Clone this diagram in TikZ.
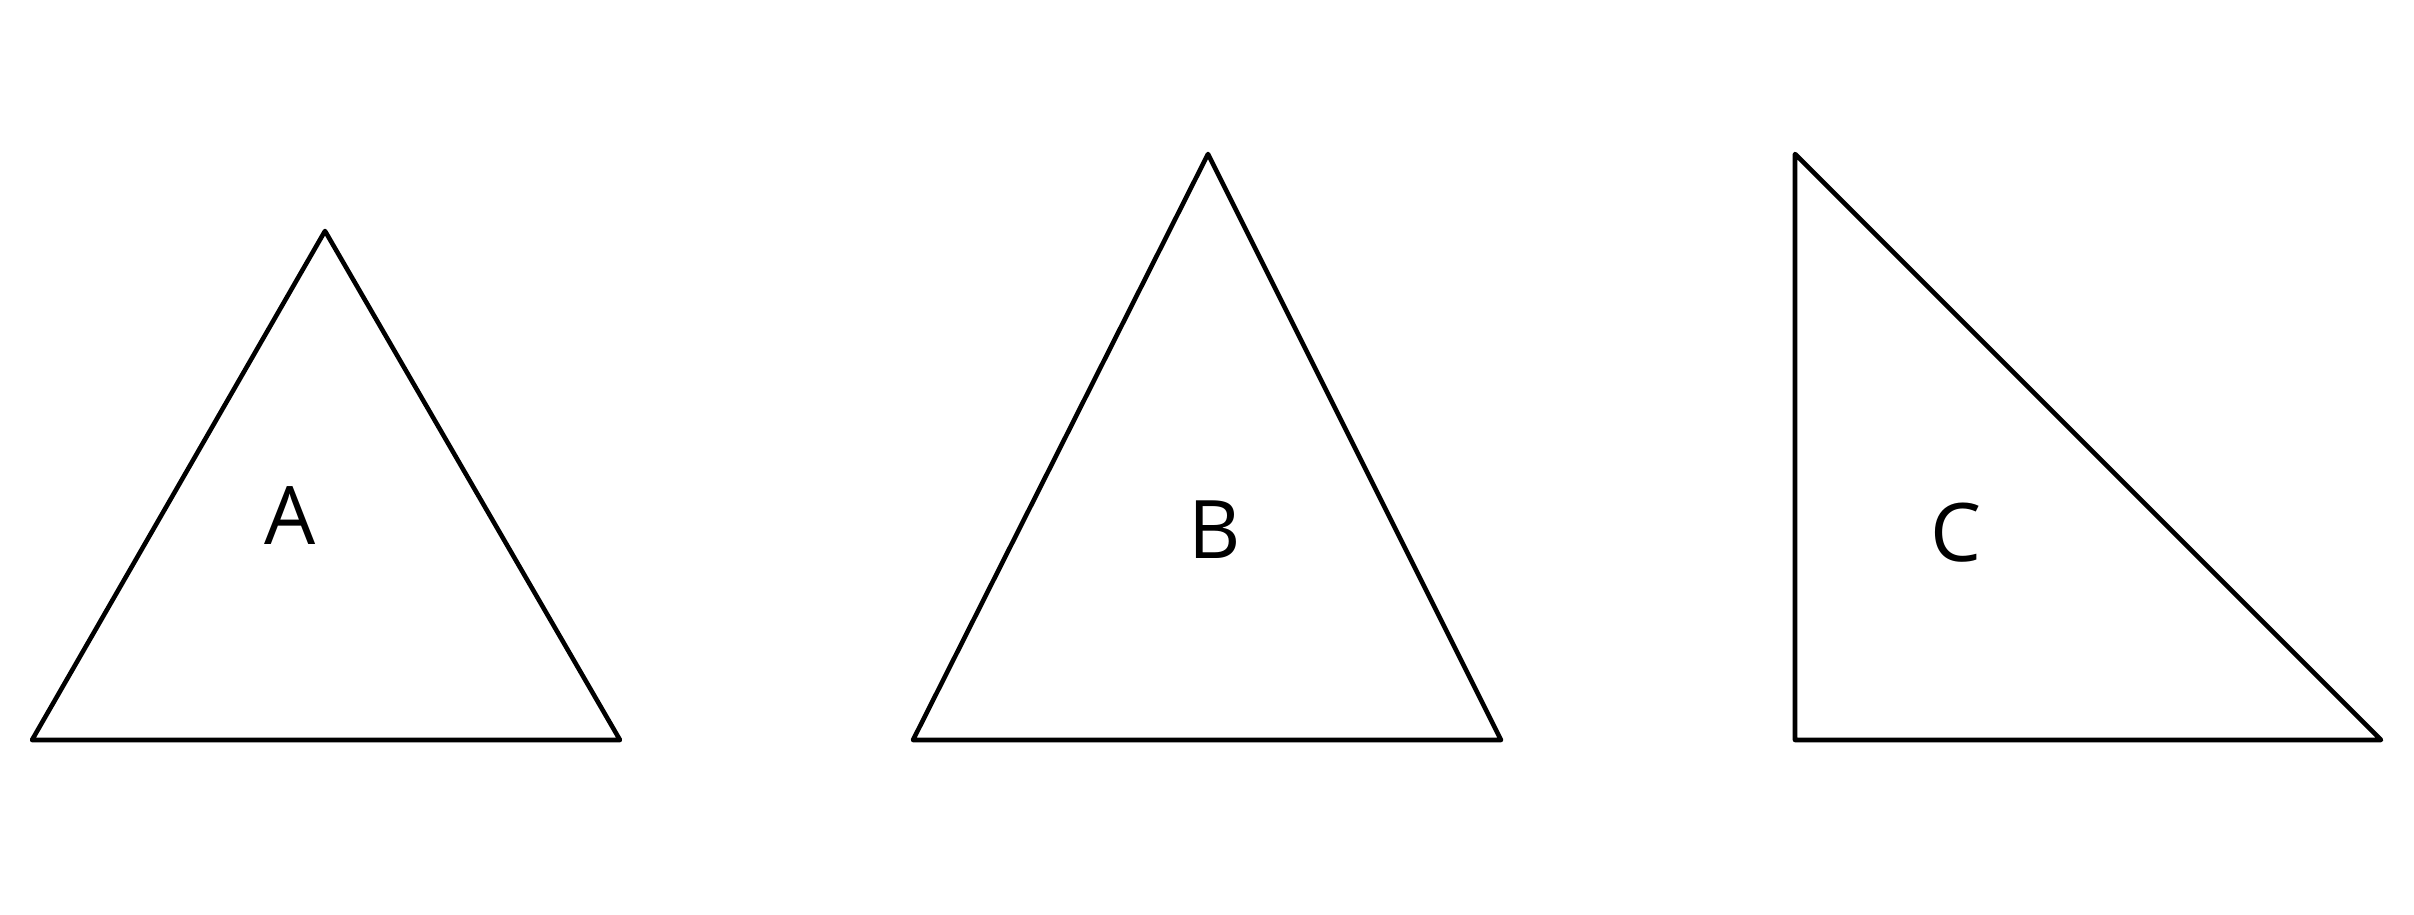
\documentclass[tikz,border=0pt]{standalone}
\usepackage{fontspec}
\setmainfont{Open Sans}
\usepackage{tikz}
\usetikzlibrary{positioning, calc}

\begin{document}
\begin{tikzpicture}[
    trishape/.style={draw=black, line width=1.3pt, line join=round},
    trilabel/.style={font=\fontsize{23}{27}\selectfont, inner sep=0pt}
]
\useasboundingbox (0,0) rectangle (24.14,9.14);

\coordinate (a1) at (0.32,1.74);
\coordinate (a2) at (6.20,1.74);
\coordinate (a3) at (3.25,6.83);
\coordinate (b1) at (9.13,1.74);
\coordinate (b2) at (15.01,1.74);
\coordinate (b3) at (12.08,7.60);
\coordinate (c1) at (17.95,1.74);
\coordinate (c2) at (23.81,1.74);
\coordinate (c3) at (17.95,7.60);

\draw[trishape] (a1) -- (a2) -- (a3) -- cycle;
\draw[trishape] (b1) -- (b2) -- (b3) -- cycle;
\draw[trishape] (c1) -- (c2) -- (c3) -- cycle;

\node[trilabel] (la) at (2.90,3.98) {A};
\node[trilabel] (lb) at (12.15,3.84) {B};
\node[trilabel] (lc) at (19.56,3.81) {C};

\end{tikzpicture}
\end{document}
